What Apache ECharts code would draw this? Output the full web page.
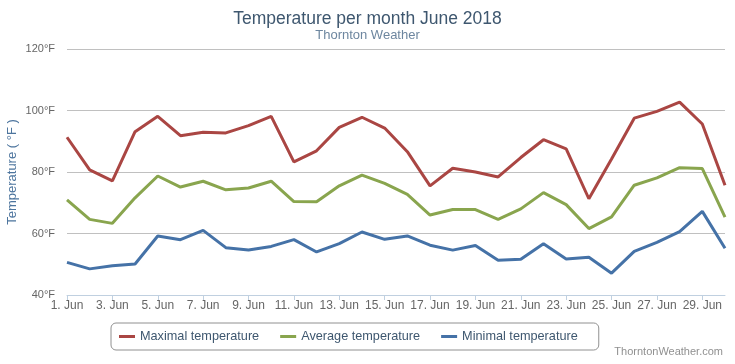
<!DOCTYPE html>
<html><head><meta charset="utf-8">
<script src="https://cdn.jsdelivr.net/npm/echarts@6/dist/echarts.min.js"></script>
<style>html,body{margin:0;padding:0;background:#fff}#c{width:735px;height:364px}</style>
</head><body><div id="c"></div>
<script>
const days = ['1. Jun','2. Jun','3. Jun','4. Jun','5. Jun','6. Jun','7. Jun','8. Jun','9. Jun','10. Jun','11. Jun','12. Jun','13. Jun','14. Jun','15. Jun','16. Jun','17. Jun','18. Jun','19. Jun','20. Jun','21. Jun','22. Jun','23. Jun','24. Jun','25. Jun','26. Jun','27. Jun','28. Jun','29. Jun','30. Jun'];
const maxTemp = [91.3,80.7,77.1,93.1,98.1,91.8,92.9,92.7,95.1,98.1,83.3,86.9,94.5,97.8,94.3,86.6,75.5,81.2,80.0,78.4,84.7,90.5,87.5,71.3,84.2,97.5,99.7,102.7,95.6,75.7];
const avgTemp = [70.9,64.6,63.3,71.6,78.7,75.1,77.0,74.2,74.8,77.0,70.4,70.3,75.5,79.0,76.3,72.7,66.0,67.8,67.8,64.6,68.0,73.3,69.4,61.6,65.4,75.7,78.1,81.4,81.1,65.3];
const minTemp = [50.6,48.5,49.5,50.1,59.2,58.0,61.0,55.4,54.6,55.8,58.0,54.0,56.7,60.5,58.1,59.2,56.2,54.6,56.1,51.3,51.6,56.7,51.7,52.3,47.1,54.2,57.1,60.6,67.2,55.2];
const seriesNames = ['Maximal temperature','Average temperature','Minimal temperature'];
const colors = ['#aa4643','#89a54e','#4572a7'];
const yTicks = {min:40, max:120, step:20};

const chart = echarts.init(document.getElementById('c'), null, {renderer:'canvas'});
const font = 'Liberation Sans, Arial, sans-serif';
chart.setOption({
  animation:false,
  title:[
    {text:'Temperature per month June 2018', left:'center', top:5,
     textStyle:{fontFamily:font, fontSize:17.5, fontWeight:'normal', color:'#3e576f'}},
    {text:'Thornton Weather', left:'center', top:24,
     textStyle:{fontFamily:font, fontSize:13, fontWeight:'normal', color:'#6d869f'}},
    {text:'ThorntonWeather.com', right:7, bottom:2,
     textStyle:{fontFamily:font, fontSize:11, fontWeight:'normal', color:'#909090'}}
  ],
  grid:{left:67, right:10, top:49, bottom:69, containLabel:false, outerBoundsMode:'none'},
  legend:{
    data:seriesNames.map(n=>({name:n, icon:'rect'})),
    bottom:14, left:111,
    itemWidth:16, itemHeight:3, itemGap:21,
    borderColor:'#909090', borderWidth:1, borderRadius:5,
    padding:[7,21,7,8],
    textStyle:{fontFamily:font, fontSize:12.7, color:'#3e576f'}
  },
  xAxis:{
    type:'category', data:days, boundaryGap:false,
    axisLine:{lineStyle:{color:'#c0d0e0'}},
    axisTick:{interval:1, length:5, lineStyle:{color:'#c0d0e0'}},
    axisLabel:{interval:1, color:'#666', fontFamily:font, fontSize:12, margin:5}
  },
  yAxis:{
    type:'value', min:yTicks.min, max:yTicks.max, interval:yTicks.step,
    name:'Temperature ( °F )', nameLocation:'middle', nameGap:48, nameMoveOverlap:false,
    nameTextStyle:{color:'#4d759e', fontFamily:font, fontSize:13},
    axisLabel:{formatter:'{value}°F', color:'#666', fontFamily:font, fontSize:11, margin:12},
    splitLine:{lineStyle:{color:'#c0c0c0'}},
    axisLine:{show:false}, axisTick:{show:false}
  },
  series:[maxTemp, avgTemp, minTemp].map((d,i)=>({
    name:seriesNames[i], type:'line', data:d, showSymbol:false, symbol:'none',
    lineStyle:{width:3, color:colors[i]}, itemStyle:{color:colors[i]}
  }))
});
</script></body></html>
